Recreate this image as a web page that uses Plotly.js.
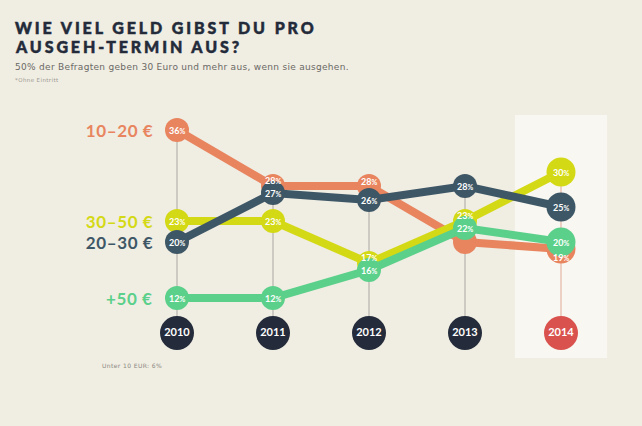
<!DOCTYPE html>
<html>
<head>
<meta charset="utf-8">
<script src="https://cdn.plot.ly/plotly-3.0.1.min.js"></script>
<style>
  html, body { margin: 0; padding: 0; background: #f0ede3; }
  #chart { width: 642px; height: 426px; }
  .annotation[data-index="0"] text, .annotation[data-index="1"] text {
    letter-spacing: 2.9px; stroke: #232b3a; stroke-width: 0.5px; }
  .annotation[data-index="2"] text { letter-spacing: 0.3px; }
  .annotation[data-index="3"] text, .annotation[data-index="4"] text { letter-spacing: 0.4px; }
  .annotation[data-index="5"] text, .annotation[data-index="6"] text,
  .annotation[data-index="7"] text, .annotation[data-index="8"] text { letter-spacing: 0.6px; }
</style>
</head>
<body>
<div id="chart"></div>
<script>
// ---- data ----
const years = [2010, 2011, 2012, 2013, 2014];
const eur10_20 = [36, 28, 28, 20, 19];
const eur20_30 = [20, 27, 26, 28, 25];
const eur30_50 = [23, 23, 17, 23, 30];
const eur50plus = [12, 12, 16, 22, 20];
const seriesLabels = ['10–20 €', '20–30 €', '30–50 €', '+50 €'];
const under10Label = 'Unter 10 EUR: 6%';
const titleLines = ['WIE VIEL GELD GIBST DU PRO', 'AUSGEH-TERMIN AUS?'];
const subtitle = '50% der Befragten geben 30 Euro und mehr aus, wenn sie ausgehen.';
const footnote = '*Ohne Eintritt';
// value label hidden in the reference (10–20 € in 2013, behind the +50 € circle)
const hiddenLabels = [['10–20 €', 2013]];

// ---- style ----
const C = {
  bg: '#f0ede3', hl: '#f8f7f1', orange: '#e8855f', yellow: '#d4d915',
  slate: '#3e5766', green: '#5bd08a', navy: '#242c3b', red: '#d9524e', title: '#232b3a'
};
const FONT = 'Lato, "Open Sans", sans-serif';
const L = 129, R = 609, T = 102, B = 382;
const YMAX = 40;
const pxPerUnit = (B - T) / YMAX;
const px2x = p => (p - L) / (R - L);
const px2y = p => (B - p) / (B - T);
const yearRowY = 7;
const sizes = [24, 24, 24, 24, 29];
const pct = v => v + '<span style="font-size:7px">%</span>';

// drawing order (bottom -> top)
const drawn = [
  { vals: eur10_20, color: C.orange, name: seriesLabels[0] },
  { vals: eur30_50, color: C.yellow, name: seriesLabels[2] },
  { vals: eur20_30, color: C.slate, name: seriesLabels[1] },
  { vals: eur50plus, color: C.green, name: seriesLabels[3] }
];

const traces = drawn.map(s => ({
  x: years, y: s.vals, type: 'scatter', mode: 'lines+markers',
  line: { color: s.color, width: 8 },
  marker: { color: s.color, size: sizes, opacity: 1, line: { width: 0 } },
  hoverinfo: 'skip', cliponaxis: false, showlegend: false
}));
traces.push({
  x: years, y: years.map(() => yearRowY), type: 'scatter', mode: 'markers+text',
  marker: { size: 34, opacity: 1, line: { width: 0 },
            color: years.map(y => y === 2014 ? C.red : C.navy) },
  text: years.map(String), textposition: 'middle center',
  textfont: { family: FONT, size: 11, color: '#ffffff', weight: 700 },
  hoverinfo: 'skip', cliponaxis: false, showlegend: false
});

const allSeries = [eur10_20, eur20_30, eur30_50, eur50plus];
const shapes = [{
  type: 'rect', layer: 'below', xref: 'x', yref: 'paper',
  x0: 2013.52, x1: 2014.48, y0: px2y(358), y1: px2y(115),
  fillcolor: C.hl, line: { width: 0 }
}];
years.forEach((yr, i) => {
  shapes.push({
    type: 'line', layer: 'below', xref: 'x', yref: 'y',
    x0: yr, x1: yr, y0: yearRowY, y1: Math.max(...allSeries.map(s => s[i])),
    line: { color: yr === 2014 ? '#e2a996' : '#a9a7a0', width: 1 }
  });
});

const ann = [];
// 0,1 title
titleLines.forEach((t, i) => ann.push({
  xref: 'paper', yref: 'paper', x: px2x(13), y: px2y(i === 0 ? 27 : 46),
  xanchor: 'left', yanchor: 'middle', align: 'left', showarrow: false, text: t,
  font: { family: FONT, size: 16, color: C.title, weight: 900 }
}));
// 2 subtitle
ann.push({
  xref: 'paper', yref: 'paper', x: px2x(13), y: px2y(67),
  xanchor: 'left', yanchor: 'middle', align: 'left', showarrow: false, text: subtitle,
  font: { family: '"DejaVu Sans", sans-serif', size: 9, color: '#6a6963' }
});
// 3 footnote
ann.push({
  xref: 'paper', yref: 'paper', x: px2x(13), y: px2y(80),
  xanchor: 'left', yanchor: 'middle', align: 'left', showarrow: false, text: footnote,
  font: { family: '"DejaVu Sans", sans-serif', size: 5.5, color: '#9a988f' }
});
// 4 under 10
ann.push({
  xref: 'paper', yref: 'paper', x: px2x(100), y: px2y(365),
  xanchor: 'left', yanchor: 'middle', align: 'left', showarrow: false, text: under10Label,
  font: { family: '"DejaVu Sans", sans-serif', size: 6, color: '#8a887f' }
});
// 5-8 series labels
const labelColors = [C.orange, C.slate, C.yellow, C.green];
allSeries.forEach((s, i) => ann.push({
  xref: 'x', yref: 'y', x: years[0], y: s[0], xshift: -22,
  xanchor: 'right', yanchor: 'middle', align: 'right', showarrow: false,
  text: seriesLabels[i],
  font: { family: FONT, size: 17, color: labelColors[i], weight: 700 }
}));
// value labels: a label whose circle is partly covered by a later circle
// moves a little away from the covering circle
drawn.forEach((s, k) => {
  s.vals.forEach((v, i) => {
    if (hiddenLabels.some(h => h[0] === s.name && h[1] === years[i])) return;
    const r = sizes[i] / 2;
    const c1 = B - v * pxPerUnit;
    let best = null;
    for (let k2 = k + 1; k2 < drawn.length; k2++) {
      const c2 = B - drawn[k2].vals[i] * pxPerUnit;
      const d = Math.abs(c2 - c1);
      if (d < r + 5 && (best === null || d < Math.abs(best - c1))) best = c2;
    }
    let yshift = 0;
    if (best !== null) {
      const d = Math.abs(best - c1);
      const off = Math.min(r - d / 2, r - 6);
      yshift = best > c1 ? off : -off;
    }
    ann.push({
      xref: 'x', yref: 'y', x: years[i], y: v, yshift: yshift,
      xanchor: 'center', yanchor: 'middle', showarrow: false, text: pct(v),
      font: { family: FONT, size: 9, color: '#ffffff', weight: 700 }
    });
  });
});

const layout = {
  width: 642, height: 426,
  margin: { l: L, r: 642 - R, t: T, b: 426 - B, pad: 0 },
  paper_bgcolor: C.bg, plot_bgcolor: 'rgba(0,0,0,0)',
  xaxis: { range: [2009.5, 2014.5], visible: false, fixedrange: true },
  yaxis: { range: [0, YMAX], visible: false, fixedrange: true },
  shapes: shapes, annotations: ann, showlegend: false, hovermode: false
};

Plotly.newPlot('chart', traces, layout, { displayModeBar: false, staticPlot: true });
</script>
</body>
</html>
